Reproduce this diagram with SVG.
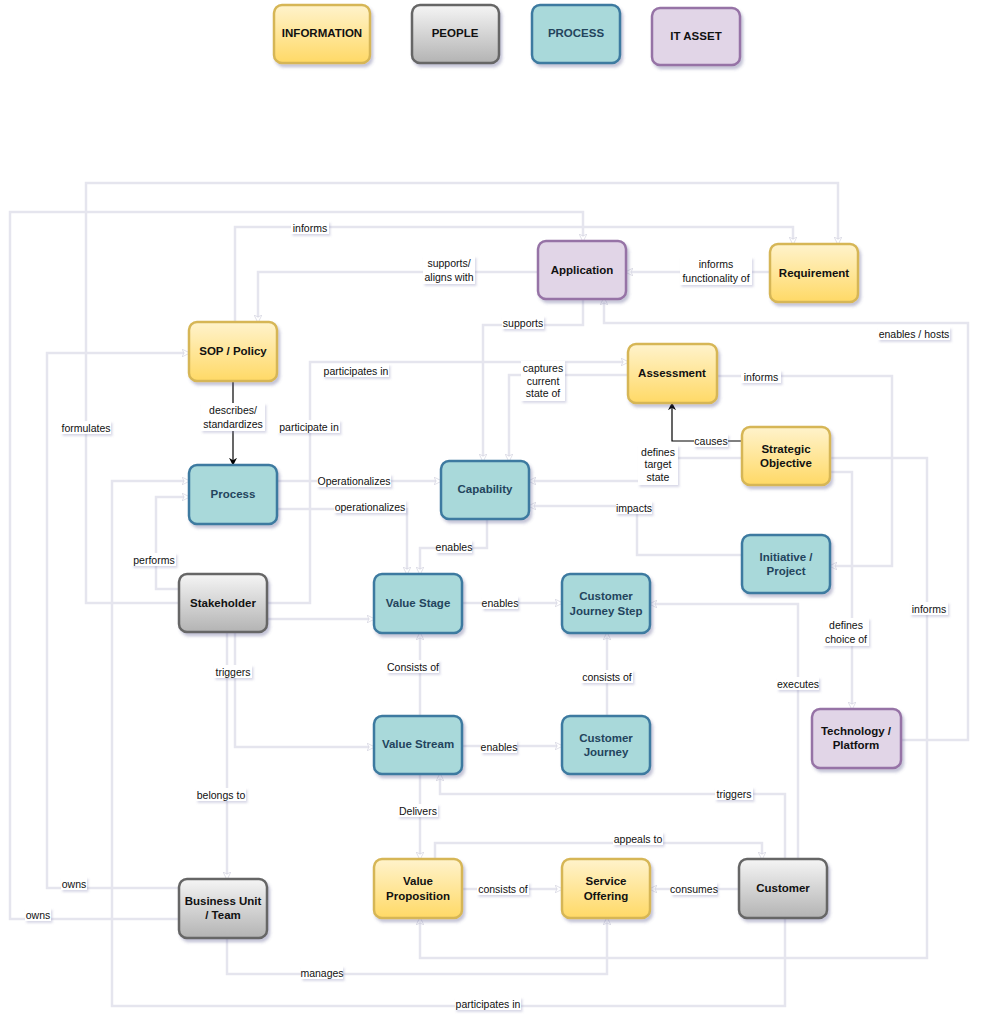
<svg xmlns="http://www.w3.org/2000/svg" width="985" height="1024" viewBox="0 0 985 1024">
<style>
.edge{fill:none;stroke:#e5e5ee;stroke-width:2.5;marker-end:url(#arr)}
.edk{fill:none;stroke:#000;stroke-width:1.2;marker-end:url(#arrk)}
.lbl{font-family:"Liberation Sans",Arial,sans-serif;font-size:10.5px;fill:#111;text-anchor:middle;dominant-baseline:central}
.lb{fill:#fff;filter:url(#ls)}
.nt{font-family:"Liberation Sans",Arial,sans-serif;font-size:11.5px;font-weight:bold;text-anchor:middle;dominant-baseline:central;fill:#111}
.info rect{fill:url(#gInfo);stroke:#d6b656;stroke-width:2.5;filter:url(#ns)}
.people rect{fill:url(#gPeople);stroke:#666;stroke-width:2.5;filter:url(#ns)}
.proc rect{fill:#a9d9da;stroke:#3d7aa0;stroke-width:2.5;filter:url(#ns)}
.proc text{fill:#23445d}
.it rect{fill:#e1d5e7;stroke:#9673a6;stroke-width:2.5;filter:url(#ns)}
</style>
<defs>
<linearGradient id="gInfo" x1="0" y1="0" x2="0" y2="1"><stop offset="0" stop-color="#fff3cc"/><stop offset="1" stop-color="#ffd966"/></linearGradient>
<linearGradient id="gPeople" x1="0" y1="0" x2="0" y2="1"><stop offset="0" stop-color="#f5f5f5"/><stop offset="1" stop-color="#b3b3b3"/></linearGradient>
<filter id="ns" x="-20%" y="-20%" width="150%" height="150%"><feDropShadow dx="2" dy="3" stdDeviation="1.5" flood-color="#55558a" flood-opacity="0.35"/></filter>
<filter id="ls" x="-20%" y="-30%" width="150%" height="180%"><feDropShadow dx="1.5" dy="2" stdDeviation="1" flood-color="#8080b0" flood-opacity="0.3"/></filter>
<marker id="arr" viewBox="0 0 10 10" refX="9" refY="5" markerWidth="8" markerHeight="8" markerUnits="userSpaceOnUse" orient="auto"><path d="M0,0 L10,5 L0,10 L3,5 z" fill="#fff" stroke="#cfcfdc" stroke-width="0.8"/></marker>
<marker id="arrk" viewBox="0 0 10 10" refX="9" refY="5" markerWidth="8" markerHeight="8" markerUnits="userSpaceOnUse" orient="auto"><path d="M0,0 L10,5 L0,10 L3,5 z" fill="#000"/></marker>
</defs>
<rect width="985" height="1024" fill="#fff"/>

<g id="legend">
<g id="lg-info" class="info"><rect x="274" y="5" width="96" height="58" rx="8"/><text class="nt" x="322" y="33">INFORMATION</text></g>
<g id="lg-people" class="people"><rect x="412" y="5" width="87" height="58" rx="8"/><text class="nt" x="455" y="33">PEOPLE</text></g>
<g id="lg-process" class="proc"><rect x="532" y="5" width="88" height="58" rx="8"/><text class="nt" x="576" y="33">PROCESS</text></g>
<g id="lg-it" class="it"><rect x="652" y="8" width="88" height="57" rx="8"/><text class="nt" x="696" y="36">IT ASSET</text></g>
</g>

<g id="connectors">
<path class="edge" d="M179,603 H86 V183 H838 V244"/>
<path class="edge" d="M179,919 H10 V212 H583 V241"/>
<path class="edge" d="M235,322 V227 H793 V244"/>
<path class="edge" d="M538,272 H258 V322"/>
<path class="edge" d="M770,272 H626"/>
<path class="edge" d="M583,298 V325 H483 V461"/>
<path class="edge" d="M901,740 H968 V323 H604 V298"/>
<path class="edge" d="M267,603 H310 V362 H628"/>
<path class="edge" d="M628,375 H509 V461"/>
<path class="edge" d="M717,376 H892 V566 H830"/>
<path class="edk" d="M742,441 H672 V403"/>
<path class="edge" d="M742,458 H660 V481 H529"/>
<path class="edge" d="M742,555 H637 V506 H529"/>
<path class="edge" d="M277,481 H441"/>
<path class="edge" d="M277,509 H407 V574"/>
<path class="edge" d="M487,519 V548 H420 V574"/>
<path class="edk" d="M233,381 V465"/>
<path class="edge" d="M179,888 H47 V353 H189"/>
<path class="edge" d="M179,589 H156 V497 H189"/>
<path class="edge" d="M785,918 V1006 H112 V481 H189"/>
<path class="edge" d="M235,632 V747 H374"/>
<path class="edge" d="M227,632 V879"/>
<path class="edge" d="M227,938 V974 H607 V918"/>
<path class="edge" d="M420,716 V633"/>
<path class="edge" d="M462,603 H562"/>
<path class="edge" d="M267,619 H374"/>
<path class="edge" d="M607,716 V633"/>
<path class="edge" d="M462,746 H562"/>
<path class="edge" d="M798,859 V604 H650"/>
<path class="edge" d="M785,859 V794 H440 V774"/>
<path class="edge" d="M420,774 V859"/>
<path class="edge" d="M435,859 V843 H762 V859"/>
<path class="edge" d="M462,889 H562"/>
<path class="edge" d="M739,889 H650"/>
<path class="edge" d="M830,458 H927 V958 H420 V918"/>
<path class="edge" d="M830,472 H852 V709"/>

<g id="edge-labels">
<rect class="lb" x="291" y="221" width="38" height="13"/><text class="lbl" x="310" y="228">informs</text>
<rect class="lb" x="423" y="256" width="52" height="28"/><text class="lbl" x="449" y="263">supports/</text><text class="lbl" x="449" y="277">aligns with</text>
<rect class="lb" x="680" y="257" width="72" height="28"/><text class="lbl" x="716" y="264">informs</text><text class="lbl" x="716" y="278">functionality of</text>
<rect class="lb" x="502" y="316" width="42" height="13"/><text class="lbl" x="523" y="323">supports</text>
<rect class="lb" x="878" y="327" width="72" height="13"/><text class="lbl" x="914" y="334">enables / hosts</text>
<rect class="lb" x="323" y="364" width="66" height="13"/><text class="lbl" x="356" y="371">participates in</text>
<rect class="lb" x="521" y="361" width="44" height="40"/><text class="lbl" x="543" y="368">captures</text><text class="lbl" x="543" y="381">current</text><text class="lbl" x="543" y="393">state of</text>
<rect class="lb" x="741" y="370" width="40" height="13"/><text class="lbl" x="761" y="377">informs</text>
<rect class="lb" x="61" y="421" width="50" height="13"/><text class="lbl" x="86" y="428">formulates</text>
<rect class="lb" x="201" y="403" width="64" height="28"/><text class="lbl" x="233" y="410">describes/</text><text class="lbl" x="233" y="424">standardizes</text>
<rect class="lb" x="278" y="420" width="62" height="13"/><text class="lbl" x="309" y="427">participate in</text>
<rect class="lb" x="694" y="434" width="34" height="13"/><text class="lbl" x="711" y="441">causes</text>
<rect class="lb" x="638" y="445" width="40" height="40"/><text class="lbl" x="658" y="452">defines</text><text class="lbl" x="658" y="464">target</text><text class="lbl" x="658" y="477">state</text>
<rect class="lb" x="317" y="474" width="74" height="13"/><text class="lbl" x="354" y="481">Operationalizes</text>
<rect class="lb" x="334" y="500" width="72" height="13"/><text class="lbl" x="370" y="507">operationalizes</text>
<rect class="lb" x="616" y="501" width="36" height="13"/><text class="lbl" x="634" y="508">impacts</text>
<rect class="lb" x="436" y="540" width="36" height="13"/><text class="lbl" x="454" y="547">enables</text>
<rect class="lb" x="132" y="553" width="44" height="13"/><text class="lbl" x="154" y="560">performs</text>
<rect class="lb" x="482" y="596" width="36" height="13"/><text class="lbl" x="500" y="603">enables</text>
<rect class="lb" x="910" y="602" width="38" height="13"/><text class="lbl" x="929" y="609">informs</text>
<rect class="lb" x="823" y="618" width="46" height="28"/><text class="lbl" x="846" y="625">defines</text><text class="lbl" x="846" y="639">choice of</text>
<rect class="lb" x="387" y="660" width="52" height="13"/><text class="lbl" x="413" y="667">Consists of</text>
<rect class="lb" x="581" y="670" width="52" height="13"/><text class="lbl" x="607" y="677">consists of</text>
<rect class="lb" x="214" y="665" width="38" height="13"/><text class="lbl" x="233" y="672">triggers</text>
<rect class="lb" x="777" y="677" width="42" height="13"/><text class="lbl" x="798" y="684">executes</text>
<rect class="lb" x="481" y="740" width="36" height="13"/><text class="lbl" x="499" y="747">enables</text>
<rect class="lb" x="196" y="788" width="50" height="13"/><text class="lbl" x="221" y="795">belongs to</text>
<rect class="lb" x="715" y="787" width="38" height="13"/><text class="lbl" x="734" y="794">triggers</text>
<rect class="lb" x="398" y="804" width="40" height="13"/><text class="lbl" x="418" y="811">Delivers</text>
<rect class="lb" x="613" y="832" width="50" height="13"/><text class="lbl" x="638" y="839">appeals to</text>
<rect class="lb" x="61" y="877" width="26" height="13"/><text class="lbl" x="74" y="884">owns</text>
<rect class="lb" x="477" y="882" width="52" height="13"/><text class="lbl" x="503" y="889">consists of</text>
<rect class="lb" x="671" y="882" width="46" height="13"/><text class="lbl" x="694" y="889">consumes</text>
<rect class="lb" x="25" y="908" width="26" height="13"/><text class="lbl" x="38" y="915">owns</text>
<rect class="lb" x="301" y="966" width="42" height="13"/><text class="lbl" x="322" y="973">manages</text>
<rect class="lb" x="455" y="997" width="66" height="13"/><text class="lbl" x="488" y="1004">participates in</text>
</g>
</g>

<g id="nodes">
<g id="application" class="it"><rect x="538" y="241" width="88" height="58" rx="8"/><text class="nt" x="582" y="270">Application</text></g>
<g id="requirement" class="info"><rect x="770" y="244" width="88" height="58" rx="8"/><text class="nt" x="814" y="273">Requirement</text></g>
<g id="sop-policy" class="info"><rect x="189" y="322" width="88" height="59" rx="8"/><text class="nt" x="233" y="351">SOP / Policy</text></g>
<g id="assessment" class="info"><rect x="628" y="344" width="89" height="59" rx="8"/><text class="nt" x="672" y="373">Assessment</text></g>
<g id="strategic-objective" class="info"><rect x="742" y="427" width="88" height="58" rx="8"/><text class="nt" x="786" y="449">Strategic</text><text class="nt" x="786" y="463">Objective</text></g>
<g id="process" class="proc"><rect x="189" y="465" width="88" height="59" rx="8"/><text class="nt" x="233" y="494">Process</text></g>
<g id="capability" class="proc"><rect x="441" y="461" width="88" height="58" rx="8"/><text class="nt" x="485" y="489">Capability</text></g>
<g id="initiative-project" class="proc"><rect x="742" y="535" width="88" height="58" rx="8"/><text class="nt" x="786" y="557">Initiative /</text><text class="nt" x="786" y="571">Project</text></g>
<g id="stakeholder" class="people"><rect x="179" y="574" width="88" height="58" rx="8"/><text class="nt" x="223" y="603">Stakeholder</text></g>
<g id="value-stage" class="proc"><rect x="374" y="574" width="88" height="59" rx="8"/><text class="nt" x="418" y="603">Value Stage</text></g>
<g id="customer-journey-step" class="proc"><rect x="562" y="574" width="88" height="59" rx="8"/><text class="nt" x="606" y="596">Customer</text><text class="nt" x="606" y="611">Journey Step</text></g>
<g id="value-stream" class="proc"><rect x="374" y="716" width="88" height="58" rx="8"/><text class="nt" x="418" y="744">Value Stream</text></g>
<g id="customer-journey" class="proc"><rect x="562" y="716" width="88" height="58" rx="8"/><text class="nt" x="606" y="738">Customer</text><text class="nt" x="606" y="752">Journey</text></g>
<g id="technology-platform" class="it"><rect x="812" y="709" width="89" height="59" rx="8"/><text class="nt" x="856" y="731">Technology /</text><text class="nt" x="856" y="745">Platform</text></g>
<g id="value-proposition" class="info"><rect x="374" y="859" width="88" height="59" rx="8"/><text class="nt" x="418" y="881">Value</text><text class="nt" x="418" y="896">Proposition</text></g>
<g id="service-offering" class="info"><rect x="562" y="859" width="88" height="59" rx="8"/><text class="nt" x="606" y="881">Service</text><text class="nt" x="606" y="896">Offering</text></g>
<g id="customer" class="people"><rect x="739" y="859" width="88" height="59" rx="8"/><text class="nt" x="783" y="888">Customer</text></g>
<g id="business-unit-team" class="people"><rect x="179" y="879" width="88" height="59" rx="8"/><text class="nt" x="223" y="901">Business Unit</text><text class="nt" x="223" y="915">/ Team</text></g>
</g>
</svg>
